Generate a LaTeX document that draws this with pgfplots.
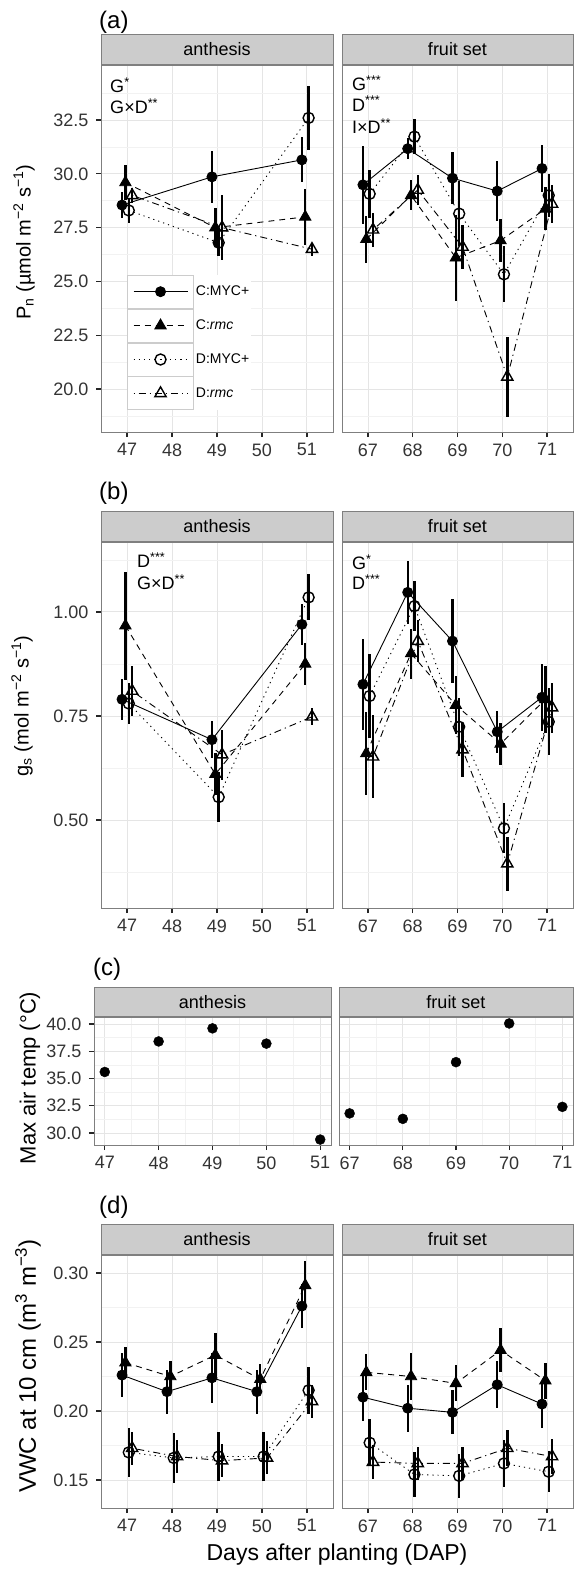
\documentclass[border=0pt]{standalone}
\usepackage{fontspec}
\setmainfont{Liberation Sans}
\usepackage{pgfplots}
\pgfplotsset{compat=1.18}
\definecolor{grey50}{HTML}{7F7F7F}
\definecolor{grey80}{HTML}{CCCCCC}
\definecolor{grey90}{HTML}{E5E5E5}
\definecolor{grey95}{HTML}{F2F2F2}
\newcommand\fs[1]{\fontsize{#1}{#1}\selectfont}
\pgfplotsset{
 fac/.style={
  scale only axis,
  axis line style={draw=grey50, line width=0.9pt},
  grid=both,
  major grid style={draw=grey90, line width=0.9pt},
  minor grid style={draw=grey95, line width=0.6pt},
  tick align=outside,
  xtick pos=left, ytick pos=left,
  major tick length=5pt, minor tick length=0pt,
  tick style={black!85, line width=1.2pt},
  tick label style={font=\fs{18}, text=black!80},
  /pgf/number format/assume math mode=true,
  every axis title/.style={at={(0.5,1)}, anchor=south, fill=grey80, draw=grey50, line width=0.9pt, minimum height=30pt, inner sep=0pt, font=\fs{18}},
  xticklabel style={yshift=-3pt},
  yticklabel style={xshift=-4pt},
 },
 noy/.style={yticklabels={}, ytick style={draw=none}},
 p1/.style={/pgf/number format/fixed, /pgf/number format/fixed zerofill, /pgf/number format/precision=1},
 p2/.style={/pgf/number format/fixed, /pgf/number format/fixed zerofill, /pgf/number format/precision=2},
 eb/.style={error bars/y dir=both, error bars/y explicit, error bars/error mark=none, error bars/error bar style={line width=2.4pt, solid, black}},
 sC1/.style={eb, black, line width=0.9pt, solid, mark=*, mark size=5pt, mark options={solid, fill=black}},
 sC2/.style={eb, black, line width=0.9pt, dash pattern=on 6pt off 5pt, mark=triangle*, mark size=6.5pt, mark options={solid, fill=black}},
 sD1/.style={eb, black, line width=0.9pt, dash pattern=on 1.2pt off 4pt, mark=o, mark size=5.5pt, mark options={solid, line width=1.4pt}},
 sD2/.style={eb, black, line width=0.9pt, dash pattern=on 1.2pt off 4pt on 7pt off 4pt, mark=triangle, mark size=6.5pt, mark options={solid, line width=1.4pt}},
}
\begin{document}
\begin{tikzpicture}
\path[use as bounding box] (0,0) rectangle (574pt,-1571pt);

% ---------------- (a) ----------------
\begin{axis}[fac, at={(101pt,-432pt)}, anchor=south west, width=232pt, height=367pt,
 title={anthesis}, title style={minimum width=232pt},
 xmin=46.42, xmax=51.58, ymin=18.0, ymax=35.06,
 xtick={47,48,49,50,51}, ytick={20,22.5,25,27.5,30,32.5},
 minor ytick={18.75,21.25,23.75,26.25,28.75,31.25,33.75},
 yticklabel style={p1},
 legend cell align=left,
 legend style={at={(axis cs:47,25.31)}, anchor=north west, draw=none, fill=white, inner sep=0pt, outer sep=0pt, row sep=0pt, column sep=0pt, font=\fs{14}},
 legend image code/.code={
   \draw[solid, draw=grey80, fill=white, line width=0.9pt] (0pt,-16.5pt) rectangle (66pt,16.5pt);
   \draw[mark repeat=2, mark phase=2] plot coordinates {(6pt,0pt) (33pt,0pt) (60pt,0pt)};
 }]
\addplot[sC1] table[row sep=\\, y error index=2] {x y e\\ 46.8875 28.55 0.6\\ 48.8875 29.86 1.2\\ 50.8875 30.65 1.05\\};
\addlegendentry{C:MYC+}
\addplot[sC2] table[row sep=\\, y error index=2] {x y e\\ 46.9625 29.6 0.8\\ 48.9625 27.5 0.9\\ 50.9625 28.0 1.3\\};
\addlegendentry{C:\textit{rmc}}
\addplot[sD1] table[row sep=\\, y error index=2] {x y e\\ 47.0375 28.3 0.6\\ 49.0375 26.8 0.6\\ 51.0375 32.6 1.5\\};
\addlegendentry{D:MYC+}
\addplot[sD2] table[row sep=\\, y error index=2] {x y e\\ 47.1125 29.0 0.35\\ 49.1125 27.5 1.5\\ 51.1125 26.5 0.3\\};
\addlegendentry{D:\textit{rmc}}
\node[anchor=west, font=\fs{18}, inner sep=0pt] at (rel axis cs:0.039,0.945) {G\textsuperscript{*}};
\node[anchor=west, font=\fs{18}, inner sep=0pt] at (rel axis cs:0.039,0.888) {G×D\textsuperscript{**}};
\end{axis}

\begin{axis}[fac, noy, at={(342pt,-432pt)}, anchor=south west, width=231pt, height=367pt,
 title={fruit set}, title style={minimum width=231pt},
 xmin=66.42, xmax=71.58, ymin=18.0, ymax=35.06,
 xtick={67,68,69,70,71}, ytick={20,22.5,25,27.5,30,32.5},
 minor ytick={18.75,21.25,23.75,26.25,28.75,31.25,33.75}]
\addplot[sC1] table[row sep=\\, y error index=2] {x y e\\ 66.8875 29.49 1.8\\ 67.8875 31.17 0.5\\ 68.8875 29.8 1.2\\ 69.8875 29.2 1.4\\ 70.8875 30.25 1.1\\};
\addplot[sC2] table[row sep=\\, y error index=2] {x y e\\ 66.9625 26.96 1.1\\ 67.9625 29.0 0.7\\ 68.9625 26.1 2.0\\ 69.9625 26.9 1.0\\ 70.9625 28.37 1.0\\};
\addplot[sD1] table[row sep=\\, y error index=2] {x y e\\ 67.0375 29.07 1.1\\ 68.0375 31.73 0.8\\ 69.0375 28.15 1.5\\ 70.0375 25.33 1.3\\ 71.0375 29.0 1.0\\};
\addplot[sD2] table[row sep=\\, y error index=2] {x y e\\ 67.1125 27.4 0.8\\ 68.1125 29.25 0.7\\ 69.1125 26.6 1.0\\ 70.1125 20.56 1.85\\ 71.1125 28.6 0.9\\};
\node[anchor=west, font=\fs{18}, inner sep=0pt] at (rel axis cs:0.043,0.95) {G\textsuperscript{***}};
\node[anchor=west, font=\fs{18}, inner sep=0pt] at (rel axis cs:0.043,0.895) {D\textsuperscript{***}};
\node[anchor=west, font=\fs{18}, inner sep=0pt] at (rel axis cs:0.043,0.833) {I×D\textsuperscript{**}};
\end{axis}

% ---------------- (b) ----------------
\begin{axis}[fac, at={(101pt,-908pt)}, anchor=south west, width=232pt, height=366pt,
 title={anthesis}, title style={minimum width=232pt},
 xmin=46.42, xmax=51.58, ymin=0.2885, ymax=1.168,
 xtick={47,48,49,50,51}, ytick={0.5,0.75,1.0},
 minor ytick={0.375,0.625,0.875,1.125},
 yticklabel style={p2}]
\addplot[sC1] table[row sep=\\, y error index=2] {x y e\\ 46.8875 0.79 0.05\\ 48.8875 0.693 0.045\\ 50.8875 0.97 0.05\\};
\addplot[sC2] table[row sep=\\, y error index=2] {x y e\\ 46.9625 0.967 0.13\\ 48.9625 0.61 0.05\\ 50.9625 0.875 0.05\\};
\addplot[sD1] table[row sep=\\, y error index=2] {x y e\\ 47.0375 0.78 0.05\\ 49.0375 0.555 0.06\\ 51.0375 1.035 0.055\\};
\addplot[sD2] table[row sep=\\, y error index=2] {x y e\\ 47.1125 0.81 0.06\\ 49.1125 0.657 0.06\\ 51.1125 0.748 0.02\\};
\node[anchor=west, font=\fs{18}, inner sep=0pt] at (rel axis cs:0.155,0.951) {D\textsuperscript{***}};
\node[anchor=west, font=\fs{18}, inner sep=0pt] at (rel axis cs:0.155,0.891) {G×D\textsuperscript{**}};
\end{axis}

\begin{axis}[fac, noy, at={(342pt,-908pt)}, anchor=south west, width=231pt, height=366pt,
 title={fruit set}, title style={minimum width=231pt},
 xmin=66.42, xmax=71.58, ymin=0.2885, ymax=1.168,
 xtick={67,68,69,70,71}, ytick={0.5,0.75,1.0},
 minor ytick={0.375,0.625,0.875,1.125}]
\addplot[sC1] table[row sep=\\, y error index=2] {x y e\\ 66.8875 0.826 0.11\\ 67.8875 1.047 0.075\\ 68.8875 0.93 0.1\\ 69.8875 0.712 0.05\\ 70.8875 0.795 0.08\\};
\addplot[sC2] table[row sep=\\, y error index=2] {x y e\\ 66.9625 0.66 0.1\\ 67.9625 0.90 0.06\\ 68.9625 0.776 0.07\\ 69.9625 0.683 0.05\\ 70.9625 0.79 0.08\\};
\addplot[sD1] table[row sep=\\, y error index=2] {x y e\\ 67.0375 0.798 0.1\\ 68.0375 1.014 0.06\\ 69.0375 0.724 0.07\\ 70.0375 0.48 0.06\\ 71.0375 0.736 0.08\\};
\addplot[sD2] table[row sep=\\, y error index=2] {x y e\\ 67.1125 0.652 0.1\\ 68.1125 0.93 0.05\\ 69.1125 0.669 0.065\\ 70.1125 0.395 0.065\\ 71.1125 0.77 0.06\\};
\node[anchor=west, font=\fs{18}, inner sep=0pt] at (rel axis cs:0.043,0.945) {G\textsuperscript{*}};
\node[anchor=west, font=\fs{18}, inner sep=0pt] at (rel axis cs:0.043,0.891) {D\textsuperscript{***}};
\end{axis}

% ---------------- (c) ----------------
\begin{axis}[fac, at={(94pt,-1145pt)}, anchor=south west, width=237pt, height=128pt,
 title={anthesis}, title style={minimum width=237pt, minimum height=29pt},
 xmin=46.8, xmax=51.2, ymin=28.9, ymax=40.64,
 xtick={47,48,49,50,51}, minor xtick={47.5,48.5,49.5,50.5},
 ytick={30,32.5,35,37.5,40}, minor ytick={31.25,33.75,36.25,38.75},
 yticklabel style={p1}]
\addplot[only marks, mark=*, mark size=5pt, black] table[row sep=\\] {x y\\ 47 35.6\\ 48 38.4\\ 49 39.6\\ 50 38.2\\ 51 29.4\\};
\end{axis}

\begin{axis}[fac, noy, at={(339pt,-1145pt)}, anchor=south west, width=234pt, height=128pt,
 title={fruit set}, title style={minimum width=234pt, minimum height=29pt},
 xmin=66.8, xmax=71.2, ymin=28.9, ymax=40.64,
 xtick={67,68,69,70,71}, minor xtick={67.5,68.5,69.5,70.5},
 ytick={30,32.5,35,37.5,40}, minor ytick={31.25,33.75,36.25,38.75}]
\addplot[only marks, mark=*, mark size=5pt, black] table[row sep=\\] {x y\\ 67 31.8\\ 68 31.3\\ 69 36.5\\ 70 40.05\\ 71 32.4\\};
\end{axis}

% ---------------- (d) ----------------
\begin{axis}[fac, at={(101pt,-1508pt)}, anchor=south west, width=232pt, height=253pt,
 title={anthesis}, title style={minimum width=232pt},
 xmin=46.42, xmax=51.58, ymin=0.1297, ymax=0.313,
 xtick={47,48,49,50,51}, ytick={0.15,0.2,0.25,0.3},
 minor ytick={0.175,0.225,0.275},
 yticklabel style={p2}]
\addplot[sC1] table[row sep=\\, y error index=2] {x y e\\ 46.8875 0.226 0.016\\ 47.8875 0.214 0.016\\ 48.8875 0.224 0.018\\ 49.8875 0.214 0.016\\ 50.8875 0.276 0.016\\};
\addplot[sC2] table[row sep=\\, y error index=2] {x y e\\ 46.9625 0.235 0.011\\ 47.9625 0.225 0.011\\ 48.9625 0.2405 0.016\\ 49.9625 0.223 0.011\\ 50.9625 0.291 0.018\\};
\addplot[sD1] table[row sep=\\, y error index=2] {x y e\\ 47.0375 0.170 0.018\\ 48.0375 0.166 0.018\\ 49.0375 0.167 0.018\\ 50.0375 0.167 0.018\\ 51.0375 0.215 0.017\\};
\addplot[sD2] table[row sep=\\, y error index=2] {x y e\\ 47.1125 0.173 0.012\\ 48.1125 0.167 0.012\\ 49.1125 0.164 0.012\\ 50.1125 0.166 0.012\\ 51.1125 0.207 0.012\\};
\end{axis}

\begin{axis}[fac, noy, at={(342pt,-1508pt)}, anchor=south west, width=231pt, height=253pt,
 title={fruit set}, title style={minimum width=231pt},
 xmin=66.42, xmax=71.58, ymin=0.1297, ymax=0.313,
 xtick={67,68,69,70,71}, ytick={0.15,0.2,0.25,0.3},
 minor ytick={0.175,0.225,0.275}]
\addplot[sC1] table[row sep=\\, y error index=2] {x y e\\ 66.8875 0.210 0.017\\ 67.8875 0.202 0.017\\ 68.8875 0.199 0.016\\ 69.8875 0.219 0.017\\ 70.8875 0.205 0.017\\};
\addplot[sC2] table[row sep=\\, y error index=2] {x y e\\ 66.9625 0.228 0.013\\ 67.9625 0.225 0.017\\ 68.9625 0.220 0.013\\ 69.9625 0.244 0.016\\ 70.9625 0.222 0.013\\};
\addplot[sD1] table[row sep=\\, y error index=2] {x y e\\ 67.0375 0.177 0.017\\ 68.0375 0.154 0.016\\ 69.0375 0.153 0.016\\ 70.0375 0.162 0.017\\ 71.0375 0.156 0.015\\};
\addplot[sD2] table[row sep=\\, y error index=2] {x y e\\ 67.1125 0.163 0.012\\ 68.1125 0.162 0.012\\ 69.1125 0.162 0.012\\ 70.1125 0.173 0.013\\ 71.1125 0.167 0.013\\};
\end{axis}

% ---------------- labels ----------------
\node[anchor=west, font=\fs{24}, inner sep=0pt] at (99pt,-22pt) {(a)};
\node[anchor=west, font=\fs{24}, inner sep=0pt] at (99pt,-493pt) {(b)};
\node[anchor=west, font=\fs{24}, inner sep=0pt] at (93pt,-969pt) {(c)};
\node[anchor=west, font=\fs{24}, inner sep=0pt] at (99pt,-1207pt) {(d)};
\node[rotate=90, font=\fs{20}] at (24pt,-242pt) {P\textsubscript{n} (µmol m\textsuperscript{−2} s\textsuperscript{−1})};
\node[rotate=90, font=\fs{20}] at (22pt,-706pt) {g\textsubscript{s} (mol m\textsuperscript{−2} s\textsuperscript{−1})};
\node[rotate=90, font=\fs{22}] at (30pt,-1078pt) {Max air temp (°C)};
\node[rotate=90, font=\fs{24}] at (28pt,-1366pt) {VWC at 10 cm (m\textsuperscript{3} m\textsuperscript{−3})};
\node[font=\fs{23}] at (337pt,-1555pt) {Days after planting (DAP)};
\end{tikzpicture}
\end{document}
